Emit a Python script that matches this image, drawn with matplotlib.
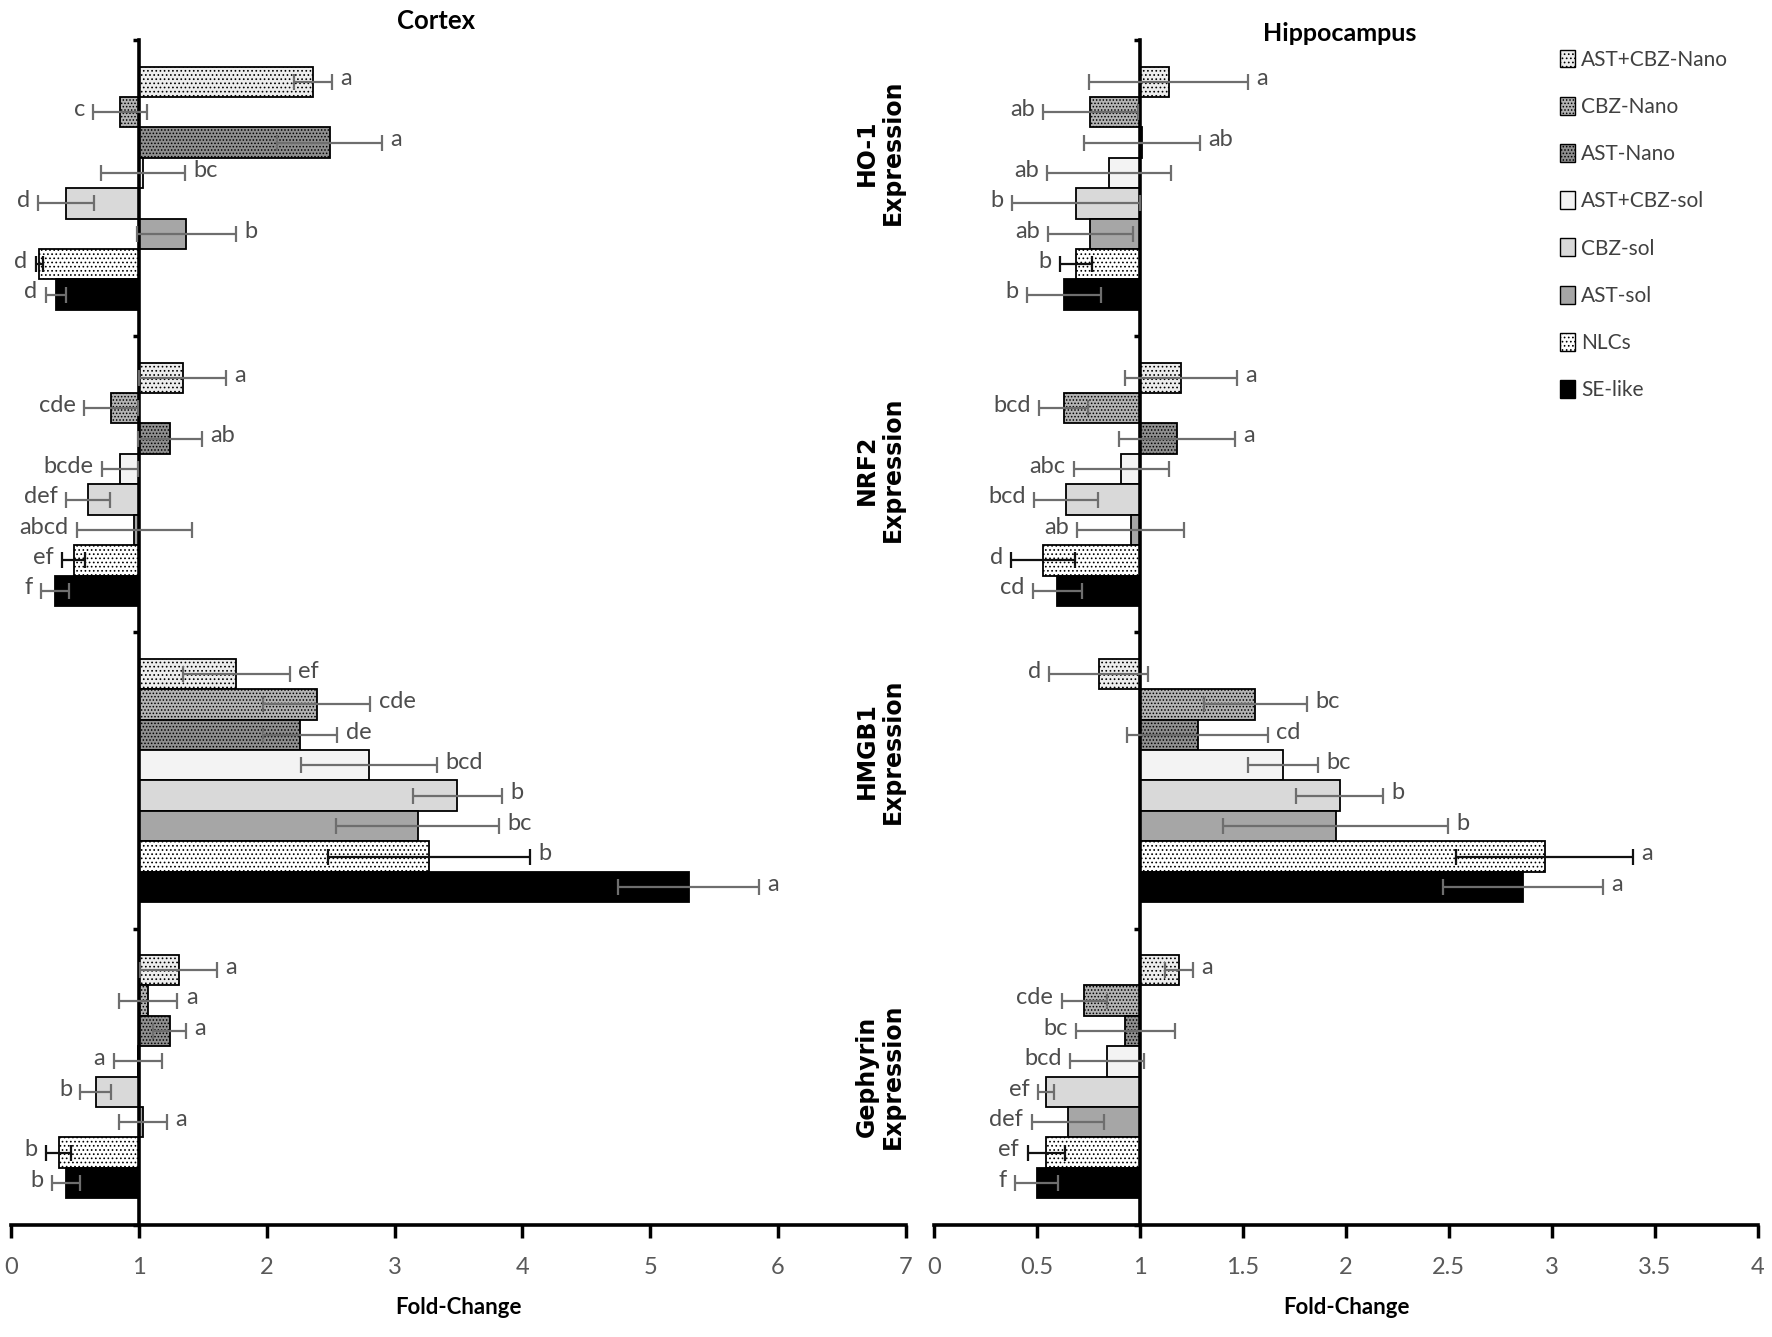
import matplotlib
matplotlib.use("Agg")
import matplotlib.pyplot as plt
from matplotlib.patches import Patch
import numpy as np

# ---------------- data ----------------
groups = ["HO-1", "NRF2", "HMGB1", "Gephyrin"]
treatments = ["AST+CBZ-Nano", "CBZ-Nano", "AST-Nano", "AST+CBZ-sol",
              "CBZ-sol", "AST-sol", "NLCs", "SE-like"]

cortex_ho1 = [2.36, 0.85, 2.49, 1.03, 0.43, 1.37, 0.22, 0.35]
cortex_ho1_err = [0.15, 0.21, 0.41, 0.33, 0.22, 0.39, 0.03, 0.08]
cortex_ho1_lab = ["a", "c", "a", "bc", "d", "b", "d", "d"]
cortex_nrf2 = [1.34, 0.78, 1.24, 0.85, 0.60, 0.96, 0.49, 0.34]
cortex_nrf2_err = [0.34, 0.21, 0.25, 0.14, 0.17, 0.45, 0.09, 0.11]
cortex_nrf2_lab = ["a", "cde", "ab", "bcde", "def", "abcd", "ef", "f"]
cortex_hmgb1 = [1.76, 2.39, 2.26, 2.80, 3.49, 3.18, 3.27, 5.30]
cortex_hmgb1_err = [0.42, 0.42, 0.29, 0.53, 0.35, 0.64, 0.79, 0.55]
cortex_hmgb1_lab = ["ef", "cde", "de", "bcd", "b", "bc", "b", "a"]
cortex_geph = [1.31, 1.07, 1.24, 0.99, 0.66, 1.03, 0.37, 0.43]
cortex_geph_err = [0.30, 0.23, 0.13, 0.19, 0.12, 0.19, 0.10, 0.11]
cortex_geph_lab = ["a", "a", "a", "a", "b", "a", "b", "b"]

hippo_ho1 = [1.14, 0.76, 1.01, 0.85, 0.69, 0.76, 0.69, 0.63]
hippo_ho1_err = [0.385, 0.23, 0.28, 0.30, 0.31, 0.205, 0.08, 0.18]
hippo_ho1_lab = ["a", "ab", "ab", "ab", "b", "ab", "b", "b"]
hippo_nrf2 = [1.20, 0.63, 1.18, 0.91, 0.64, 0.955, 0.53, 0.60]
hippo_nrf2_err = [0.27, 0.12, 0.28, 0.23, 0.155, 0.26, 0.155, 0.12]
hippo_nrf2_lab = ["a", "bcd", "a", "abc", "bcd", "ab", "d", "cd"]
hippo_hmgb1 = [0.80, 1.56, 1.28, 1.695, 1.97, 1.95, 2.965, 2.86]
hippo_hmgb1_err = [0.24, 0.25, 0.34, 0.17, 0.21, 0.545, 0.43, 0.39]
hippo_hmgb1_lab = ["d", "bc", "cd", "bc", "b", "b", "a", "a"]
hippo_geph = [1.19, 0.73, 0.93, 0.84, 0.545, 0.65, 0.545, 0.50]
hippo_geph_err = [0.07, 0.11, 0.24, 0.18, 0.04, 0.175, 0.09, 0.105]
hippo_geph_lab = ["a", "cde", "bc", "bcd", "ef", "def", "ef", "f"]

cortex_ticks = [0, 1, 2, 3, 4, 5, 6, 7]
hippo_ticks = [0, 0.5, 1, 1.5, 2, 2.5, 3, 3.5, 4]
hippo_ticklabels = ["0", "0.5", "1", "1.5", "2", "2.5", "3", "3.5", "4"]

# ---------------- styles ----------------
faces = ["#ededed", "#b3b3b3", "#8f8f8f", "#f3f3f3", "#d9d9d9", "#a6a6a6", "#ffffff", "#000000"]
hatches = ["....", ".....", ".....", None, None, None, "....", None]
err_colors = ["#6e6e6e"] * 6 + ["#111111", "#6e6e6e"]
group_label_shift = [0.12, 0.05, 0.10, 0.0]

plt.rcParams["hatch.linewidth"] = 0.7
plt.rcParams["font.family"] = ["Lato", "DejaVu Sans"]

fig = plt.figure(figsize=(17.72, 13.37), dpi=100)
ax1 = fig.add_axes([0.0064, 0.084, 0.5048, 0.886])
ax2 = fig.add_axes([0.527, 0.084, 0.465, 0.886])

bar_h = 0.1027


def draw_panel(ax, vals, errs, labs, xmax, ticks, ticklabels):
    for gi in range(len(groups)):
        center = len(groups) - 0.5 - gi
        for j in range(len(treatments)):
            y = center + (3.5 - j) * bar_h
            v = vals[gi][j]
            e = errs[gi][j]
            ax.barh(y, v - 1, left=1, height=bar_h, color=faces[j],
                    edgecolor="black", linewidth=1.3, hatch=hatches[j], zorder=2)
            ax.errorbar(v, y, xerr=e, fmt="none", ecolor=err_colors[j],
                        elinewidth=1.6, capsize=6, capthick=1.6, zorder=3)
            if v >= 1:
                ax.annotate(labs[gi][j], xy=(v + e, y), xytext=(6, 2),
                            textcoords="offset points", ha="left", va="center",
                            fontsize=17, color="#4d4d4d")
            else:
                ax.annotate(labs[gi][j], xy=(v - e, y), xytext=(-6, 2),
                            textcoords="offset points", ha="right", va="center",
                            fontsize=17, color="#4d4d4d")
    ax.set_xlim(0, xmax)
    ax.set_ylim(0, len(groups))
    ax.spines["left"].set_position(("data", 1))
    ax.spines["right"].set_visible(False)
    ax.spines["top"].set_visible(False)
    ax.spines["left"].set_linewidth(2.6)
    ax.spines["bottom"].set_linewidth(2.6)
    ax.set_yticks(range(len(groups) + 1))
    ax.set_yticklabels([])
    ax.tick_params(axis="y", length=4, width=2.5, direction="out")
    ax.set_xticks(ticks)
    ax.set_xticklabels(ticklabels)
    ax.tick_params(axis="x", length=9, width=2.5, direction="out",
                   labelsize=17, labelcolor="#595959", pad=14)
    ax.patch.set_alpha(0)


draw_panel(ax1,
           [cortex_ho1, cortex_nrf2, cortex_hmgb1, cortex_geph],
           [cortex_ho1_err, cortex_nrf2_err, cortex_hmgb1_err, cortex_geph_err],
           [cortex_ho1_lab, cortex_nrf2_lab, cortex_hmgb1_lab, cortex_geph_lab],
           7, cortex_ticks, [str(t) for t in cortex_ticks])
draw_panel(ax2,
           [hippo_ho1, hippo_nrf2, hippo_hmgb1, hippo_geph],
           [hippo_ho1_err, hippo_nrf2_err, hippo_hmgb1_err, hippo_geph_err],
           [hippo_ho1_lab, hippo_nrf2_lab, hippo_hmgb1_lab, hippo_geph_lab],
           4, hippo_ticks, hippo_ticklabels)

# group labels between panels
for gi, g in enumerate(groups):
    ax1.text(6.8, len(groups) - 0.5 - gi + group_label_shift[gi], g + "\nExpression",
             rotation=90, ha="center", va="center", multialignment="center",
             fontsize=17, fontweight="bold", family="DejaVu Sans", linespacing=1.1)

fig.text(0.246, 0.984, "Cortex", ha="center", va="center", fontsize=18.5, fontweight="bold")
fig.text(0.756, 0.975, "Hippocampus", ha="center", va="center", fontsize=18, fontweight="bold")
fig.text(0.259, 0.022, "Fold-Change", ha="center", va="center", fontsize=16, fontweight="bold")
fig.text(0.760, 0.022, "Fold-Change", ha="center", va="center", fontsize=16, fontweight="bold")

handles = [Patch(facecolor=faces[j], edgecolor="black", hatch=hatches[j], linewidth=1.0)
           for j in range(len(treatments))]
fig.legend(handles, treatments, loc="upper left", bbox_to_anchor=(0.870, 0.977),
           frameon=False, fontsize=15, handlelength=0.7, handleheight=0.95,
           handletextpad=0.3, labelspacing=1.3, labelcolor="#404040")

fig.savefig("out.png", dpi=100, facecolor="white")
